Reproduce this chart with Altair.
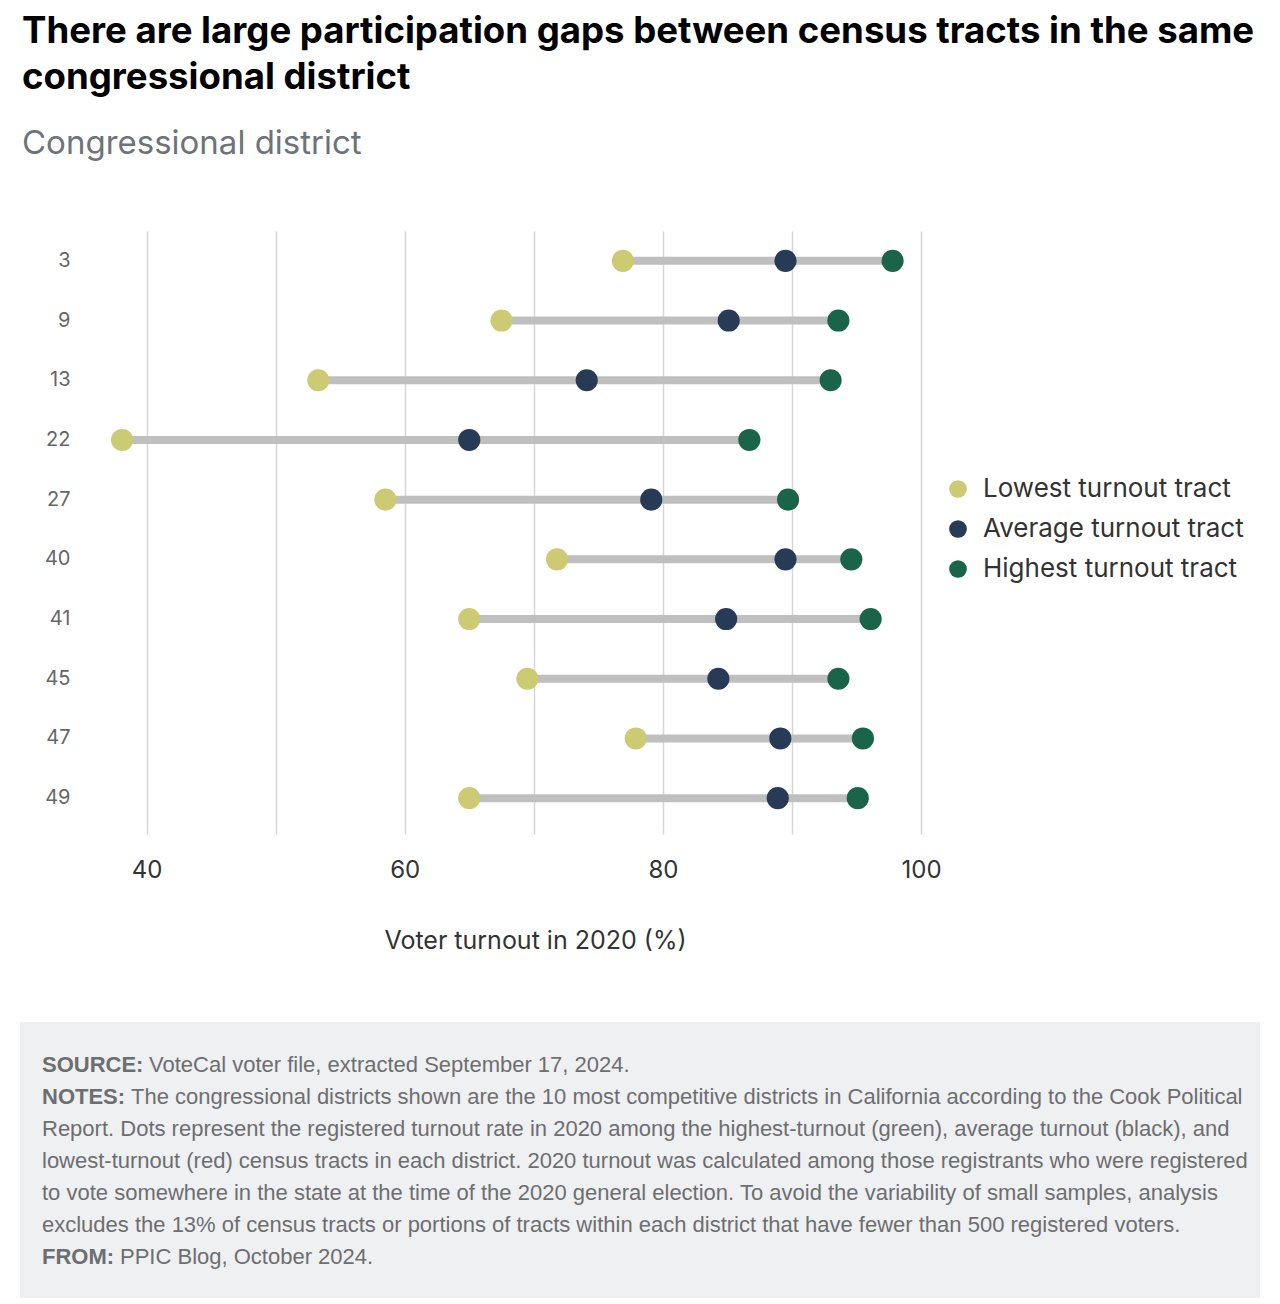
import altair as alt
import pandas as pd

# Turnout (%) by congressional district
districts = ["3", "9", "13", "22", "27", "40", "41", "45", "47", "49"]
lowest = [76.9, 67.5, 53.3, 38.1, 58.5, 71.8, 65.0, 69.5, 77.9, 65.0]
average = [89.5, 85.1, 74.1, 65.0, 79.1, 89.5, 84.9, 84.3, 89.1, 88.9]
highest = [97.8, 93.6, 93.0, 86.7, 89.7, 94.6, 96.1, 93.6, 95.5, 95.1]

series = ["Lowest turnout tract", "Average turnout tract", "Highest turnout tract"]
colors = ["#CDCA74", "#273A56", "#1A654A"]

source_text = "VoteCal voter file, extracted September 17, 2024."
notes_first = ("The congressional districts shown are the 10 most competitive districts "
               "in California according to the Cook Political")
notes_rest = [
    "Report. Dots represent the registered turnout rate in 2020 among the highest-turnout "
    "(green), average turnout (black), and",
    "lowest-turnout (red) census tracts in each district. 2020 turnout was calculated among "
    "those registrants who were registered",
    "to vote somewhere in the state at the time of the 2020 general election. To avoid the "
    "variability of small samples, analysis",
    "excludes the 13% of census tracts or portions of tracts within each district that have "
    "fewer than 500 registered voters.",
]
from_text = "PPIC Blog, October 2024."

long_df = pd.DataFrame(
    [{"district": d, "series": s, "value": v}
     for s, vals in zip(series, [lowest, average, highest])
     for d, v in zip(districts, vals)]
)
range_df = pd.DataFrame({"district": districts, "lo": lowest, "hi": highest})

FONT = "Inter"
NOTE_FONT = "Liberation Sans"
W, H = 826, 597

x_scale = alt.Scale(domain=[36, 100], nice=False, zero=False)
y_enc = alt.Y(
    "district:N",
    sort=districts,
    title=None,
    axis=alt.Axis(
        domain=False, ticks=False, grid=False,
        labelFont=FONT, labelFontSize=20, labelColor="#666666", labelPadding=25,
    ),
)

bars = alt.Chart(range_df).mark_rule(color="#BFBFBF", strokeWidth=8).encode(
    x=alt.X(
        "lo:Q",
        scale=x_scale,
        title="Voter turnout in 2020 (%)",
        axis=alt.Axis(
            values=[40, 50, 60, 70, 80, 90, 100],
            labelExpr="datum.value % 20 == 0 ? datum.label : ''",
            labelFlush=False,
            domain=False,
            grid=True, gridColor="#D6D6D6", gridWidth=1.5,
            ticks=True, tickColor="#D6D6D6", tickWidth=1.5, tickSize=6,
            labelFont=FONT, labelFontSize=24, labelColor="#333333", labelPadding=24,
            titleFont=FONT, titleFontSize=25, titleColor="#333333", titleFontWeight="normal",
            titleX=440, titleY=112, titleAlign="center", titleBaseline="middle",
        ),
    ),
    x2="hi:Q",
    y=y_enc,
)

dots = alt.Chart(long_df).mark_circle(size=490, opacity=1).encode(
    x=alt.X("value:Q", scale=x_scale),
    y=y_enc,
    color=alt.Color(
        "series:N",
        scale=alt.Scale(domain=series, range=colors),
        legend=alt.Legend(
            title=None, orient="none", legendX=850, legendY=245,
            symbolType="circle", symbolSize=314, symbolOpacity=1,
            labelFont=FONT, labelFontSize=26, labelColor="#333333", labelLimit=500,
            labelOffset=12, rowPadding=14,
        ),
    ),
)

one = alt.Data(values=[{}])
box = alt.Chart(one).mark_rect(color="#EFF0F2").encode(
    x=alt.value(-75), x2=alt.value(1165), y=alt.value(791), y2=alt.value(1067)
)

note_style = dict(font=NOTE_FONT, fontSize=22, color="#6D6E70", align="left",
                  baseline="alphabetic", lineHeight=32)


def note(text, x, y, bold=False):
    extra = {"fontWeight": "bold"} if bold else {}
    return alt.Chart(one).mark_text(text=text, **note_style, **extra).encode(
        x=alt.value(x), y=alt.value(y)
    )


footer = [
    note("SOURCE:", -53, 841, bold=True),
    note(source_text, 54, 841),
    note("NOTES:", -53, 873, bold=True),
    note(notes_first, 36, 873),
    note(notes_rest, -53, 905),
    note("FROM:", -53, 1033, bold=True),
    note(from_text, 25, 1033),
]

chart = (
    alt.layer(bars, dots, box, *footer)
    .properties(
        width=W,
        height=H,
        autosize=alt.AutoSizeParams(type="none"),
        padding={"left": 95, "top": 231, "right": 1280 - 95 - W, "bottom": 1304 - 231 - H},
        title=alt.TitleParams(
            text=["There are large participation gaps between census tracts in the same",
                  "congressional district"],
            subtitle="Congressional district",
            anchor="start", frame="group", dx=-73, offset=70,
            font=FONT, fontSize=36.6, fontWeight="bold", color="#000000", lineHeight=46,
            subtitleFont=FONT, subtitleFontSize=33, subtitleColor="#6C737A",
            subtitlePadding=31,
        ),
    )
    .configure(background="#FFFFFF")
    .configure_view(strokeWidth=0)
)

chart.save("out.html", embed_options={"renderer": "svg", "actions": False})
